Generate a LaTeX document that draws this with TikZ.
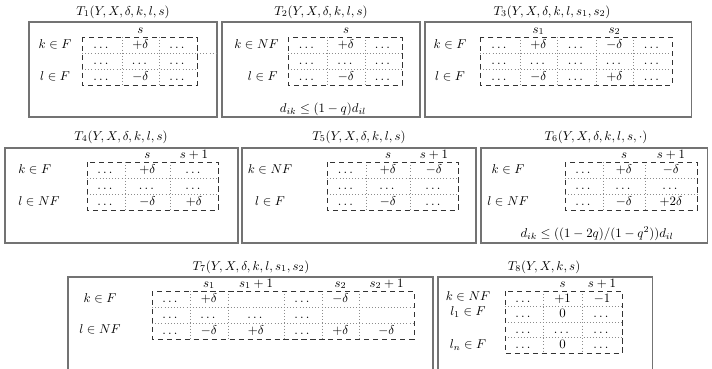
\documentclass[tikz,border=0pt]{standalone}
\usepackage{amsmath}
\begin{document}
\begin{tikzpicture}[x=0.78pt,y=-0.78pt,
  frame/.style={draw=black!55, line width=0.8pt},
  mat/.style={draw=black!80, line width=0.5pt, dash pattern=on 4pt off 3pt},
  sep/.style={draw=black!45, line width=0.45pt, dotted},
  txt/.style={inner sep=0pt, text height=1.5ex, text depth=0.3ex},
  hdr/.style={inner sep=0pt, anchor=base},
  ttl/.style={inner sep=0pt, text height=1.6ex, text depth=0.5ex}]
\useasboundingbox (0,0) rectangle (712,368);

% ---------------- T1 ----------------
\node[ttl] (t1) at (123,12) {$T_1(Y,X,\delta,k,l,s)$};
\draw[frame] (29,22) rectangle (217,117);
\node[txt] (t1k) at (55,45) {$k\in F$};
\node[txt] (t1l) at (55,77) {$l\in F$};
\foreach \c in {122,159} \draw[sep] (\c,37) -- (\c,85);
\foreach \r in {53,69} \draw[sep] (82,\r) -- (197,\r);
\draw[sep] (197,53) -- (217,53);
\draw[mat] (82,37) rectangle (197,85);
\node[hdr] at (140.5,33) {$s$};
\foreach \x/\val in {102/\dots,140.5/+\delta,178/\dots} \node[txt] at (\x,45) {$\val$};
\foreach \x/\val in {102/\dots,140.5/\dots,178/\dots} \node[txt] at (\x,61) {$\val$};
\foreach \x/\val in {102/\dots,140.5/-\delta,178/\dots} \node[txt] at (\x,77) {$\val$};

% ---------------- T2 ----------------
\node[ttl] (t2) at (321,12) {$T_2(Y,X,\delta,k,l,s)$};
\draw[frame] (222,22) rectangle (420,117);
\node[txt,anchor=east] (t2k) at (279,45) {$k\in NF$};
\node[txt,anchor=east] (t2l) at (278,77) {$l\in F$};
\foreach \c in {327,365} \draw[sep] (\c,37) -- (\c,85);
\foreach \r in {53,69} \draw[sep] (288,\r) -- (402,\r);
\draw[mat] (288,37) rectangle (402,85);
\node[hdr] at (346,33) {$s$};
\foreach \x/\val in {307.5/\dots,346/+\delta,383.5/\dots} \node[txt] at (\x,45) {$\val$};
\foreach \x/\val in {307.5/\dots,346/\dots,383.5/\dots} \node[txt] at (\x,61) {$\val$};
\foreach \x/\val in {307.5/\dots,346/-\delta,383.5/\dots} \node[txt] at (\x,77) {$\val$};
\node[txt] (t2f) at (323,109) {$d_{ik}\le(1-q)d_{il}$};

% ---------------- T3 ----------------
\node[ttl] (t3) at (552,12) {$T_3(Y,X,\delta,k,l,s_1,s_2)$};
\draw[frame] (425,22) rectangle (691,117);
\node[txt] (t3k) at (450,45) {$k\in F$};
\node[txt] (t3l) at (450,77) {$l\in F$};
\foreach \c in {520,557,596,633} \draw[sep] (\c,37) -- (\c,85);
\foreach \r in {53,69} \draw[sep] (480,\r) -- (672,\r);
\draw[mat] (480,37) rectangle (672,85);
\node[hdr] at (538.5,33) {$s_1$};
\node[hdr] at (614.5,33) {$s_2$};
\foreach \x/\val in {500/\dots,538.5/+\delta,576.5/\dots,614.5/-\delta,652.5/\dots} \node[txt] at (\x,45.5) {$\val$};
\foreach \x/\val in {500/\dots,538.5/\dots,576.5/\dots,614.5/\dots,652.5/\dots} \node[txt] at (\x,61) {$\val$};
\foreach \x/\val in {500/\dots,538.5/-\delta,576.5/\dots,614.5/+\delta,652.5/\dots} \node[txt] at (\x,77) {$\val$};

% ---------------- T4 ----------------
\node[ttl] (t4) at (121,137) {$T_4(Y,X,\delta,k,l,s)$};
\draw[frame] (5,148) rectangle (238,243);
\node[txt,anchor=west] (t4k) at (18,170) {$k\in F$};
\node[txt,anchor=west] (t4l) at (18,202) {$l\in NF$};
\foreach \c in {125,170} \draw[sep] (\c,162) -- (\c,210);
\foreach \r in {178,194} \draw[sep] (87,\r) -- (218,\r);
\draw[mat] (87,162) rectangle (218,210);
\node[hdr] at (147.5,158) {$s$};
\node[hdr] at (194,158) {$s+1$};
\foreach \x/\val in {106/\dots,147.5/+\delta,194/\dots} \node[txt] at (\x,170) {$\val$};
\foreach \x/\val in {106/\dots,147.5/\dots,194/\dots} \node[txt] at (\x,186) {$\val$};
\foreach \x/\val in {106/\dots,147.5/-\delta,194/+\delta} \node[txt] at (\x,202) {$\val$};

% ---------------- T5 ----------------
\node[ttl] (t5) at (359,137) {$T_5(Y,X,\delta,k,l,s)$};
\draw[frame] (242,148) rectangle (476,243);
\node[txt] (t5k) at (270,170) {$k\in NF$};
\node[txt] (t5l) at (270,202) {$l\in F$};
\foreach \c in {366,410} \draw[sep] (\c,162) -- (\c,210);
\foreach \r in {178,194} \draw[sep] (327,\r) -- (458,\r);
\draw[mat] (327,162) rectangle (458,210);
\node[hdr] at (388,158) {$s$};
\node[hdr] at (434,158) {$s+1$};
\foreach \x/\val in {346.5/\dots,388/+\delta,434/-\delta} \node[txt] at (\x,170) {$\val$};
\foreach \x/\val in {346.5/\dots,388/\dots,434/\dots} \node[txt] at (\x,186) {$\val$};
\foreach \x/\val in {346.5/\dots,388/-\delta,434/\dots} \node[txt] at (\x,202) {$\val$};

% ---------------- T6 ----------------
\node[ttl] (t6) at (596,137) {$T_6(Y,X,\delta,k,l,s,\cdot)$};
\draw[frame] (481,148) rectangle (707,243);
\node[txt] (t6k) at (508,170) {$k\in F$};
\node[txt] (t6l) at (508,202) {$l\in NF$};
\foreach \c in {603,645} \draw[sep] (\c,162) -- (\c,210);
\foreach \r in {178,194} \draw[sep] (565,\r) -- (697,\r);
\draw[mat] (565,162) rectangle (697,210);
\node[hdr] at (624,158) {$s$};
\node[hdr] at (671,158) {$s+1$};
\foreach \x/\val in {584/\dots,624/+\delta,671/-\delta} \node[txt] at (\x,170.5) {$\val$};
\foreach \x/\val in {584/\dots,624/\dots,671/\dots} \node[txt] at (\x,186) {$\val$};
\foreach \x/\val in {584/\dots,624/-\delta,671/+2\delta} \node[txt] at (\x,202) {$\val$};
\node[txt] (t6f) at (597,234) {$d_{ik}\le((1-2q)/(1-q^2))d_{il}$};

% ---------------- T7 ----------------
\node[ttl] (t7) at (251,267) {$T_7(Y,X,\delta,k,l,s_1,s_2)$};
\draw[frame] (68,370) -- (68,277) -- (433,277) -- (433,370);
\node[txt] (t7k) at (100,299) {$k\in F$};
\node[txt] (t7l) at (100,330) {$l\in NF$};
\foreach \c in {190,228,284,322,359} \draw[sep] (\c,291) -- (\c,339);
\foreach \r in {307,323} \draw[sep] (152,\r) -- (414,\r);
\draw[mat] (152,291) rectangle (414,339);
\node[hdr] at (209,287) {$s_1$};
\node[hdr] at (256,287) {$s_1+1$};
\node[hdr] at (340.5,287) {$s_2$};
\node[hdr] at (386.5,287) {$s_2+1$};
\foreach \x/\val in {171/\dots,209/+\delta,303/\dots,340.5/-\delta} \node[txt] at (\x,299.5) {$\val$};
\foreach \x/\val in {171/\dots,209/\dots,256/\dots,303/\dots} \node[txt] at (\x,315) {$\val$};
\foreach \x/\val in {171/\dots,209/-\delta,256/+\delta,303/\dots,340.5/+\delta,386.5/-\delta} \node[txt] at (\x,331) {$\val$};

% ---------------- T8 ----------------
\node[ttl] (t8) at (544,267) {$T_8(Y,X,k,s)$};
\draw[frame] (438,370) -- (438,277) -- (652,277) -- (652,370);
\node[txt] (t8k) at (468,297.5) {$k\in NF$};
\node[txt] (t8a) at (468,312) {$l_1\in F$};
\node[txt] (t8b) at (468,345) {$l_n\in F$};
\foreach \c in {543,582} \draw[sep] (\c,291) -- (\c,353);
\foreach \r in {306.5,322,337.5} \draw[sep] (505,\r) -- (622,\r);
\draw[mat] (505,291) rectangle (622,353);
\node[hdr] at (562.5,287) {$s$};
\node[hdr] at (602,287) {$s+1$};
\foreach \x/\val in {524/\dots,562.5/+1,602/-1} \node[txt] at (\x,299) {$\val$};
\foreach \x/\val in {524/\dots,562.5/0,602/\dots} \node[txt] at (\x,314) {$\val$};
\foreach \x/\val in {524/\dots,562.5/\dots,602/\dots} \node[txt] at (\x,330) {$\val$};
\foreach \x/\val in {524/\dots,562.5/0,602/\dots} \node[txt] at (\x,345) {$\val$};
\end{tikzpicture}
\end{document}
